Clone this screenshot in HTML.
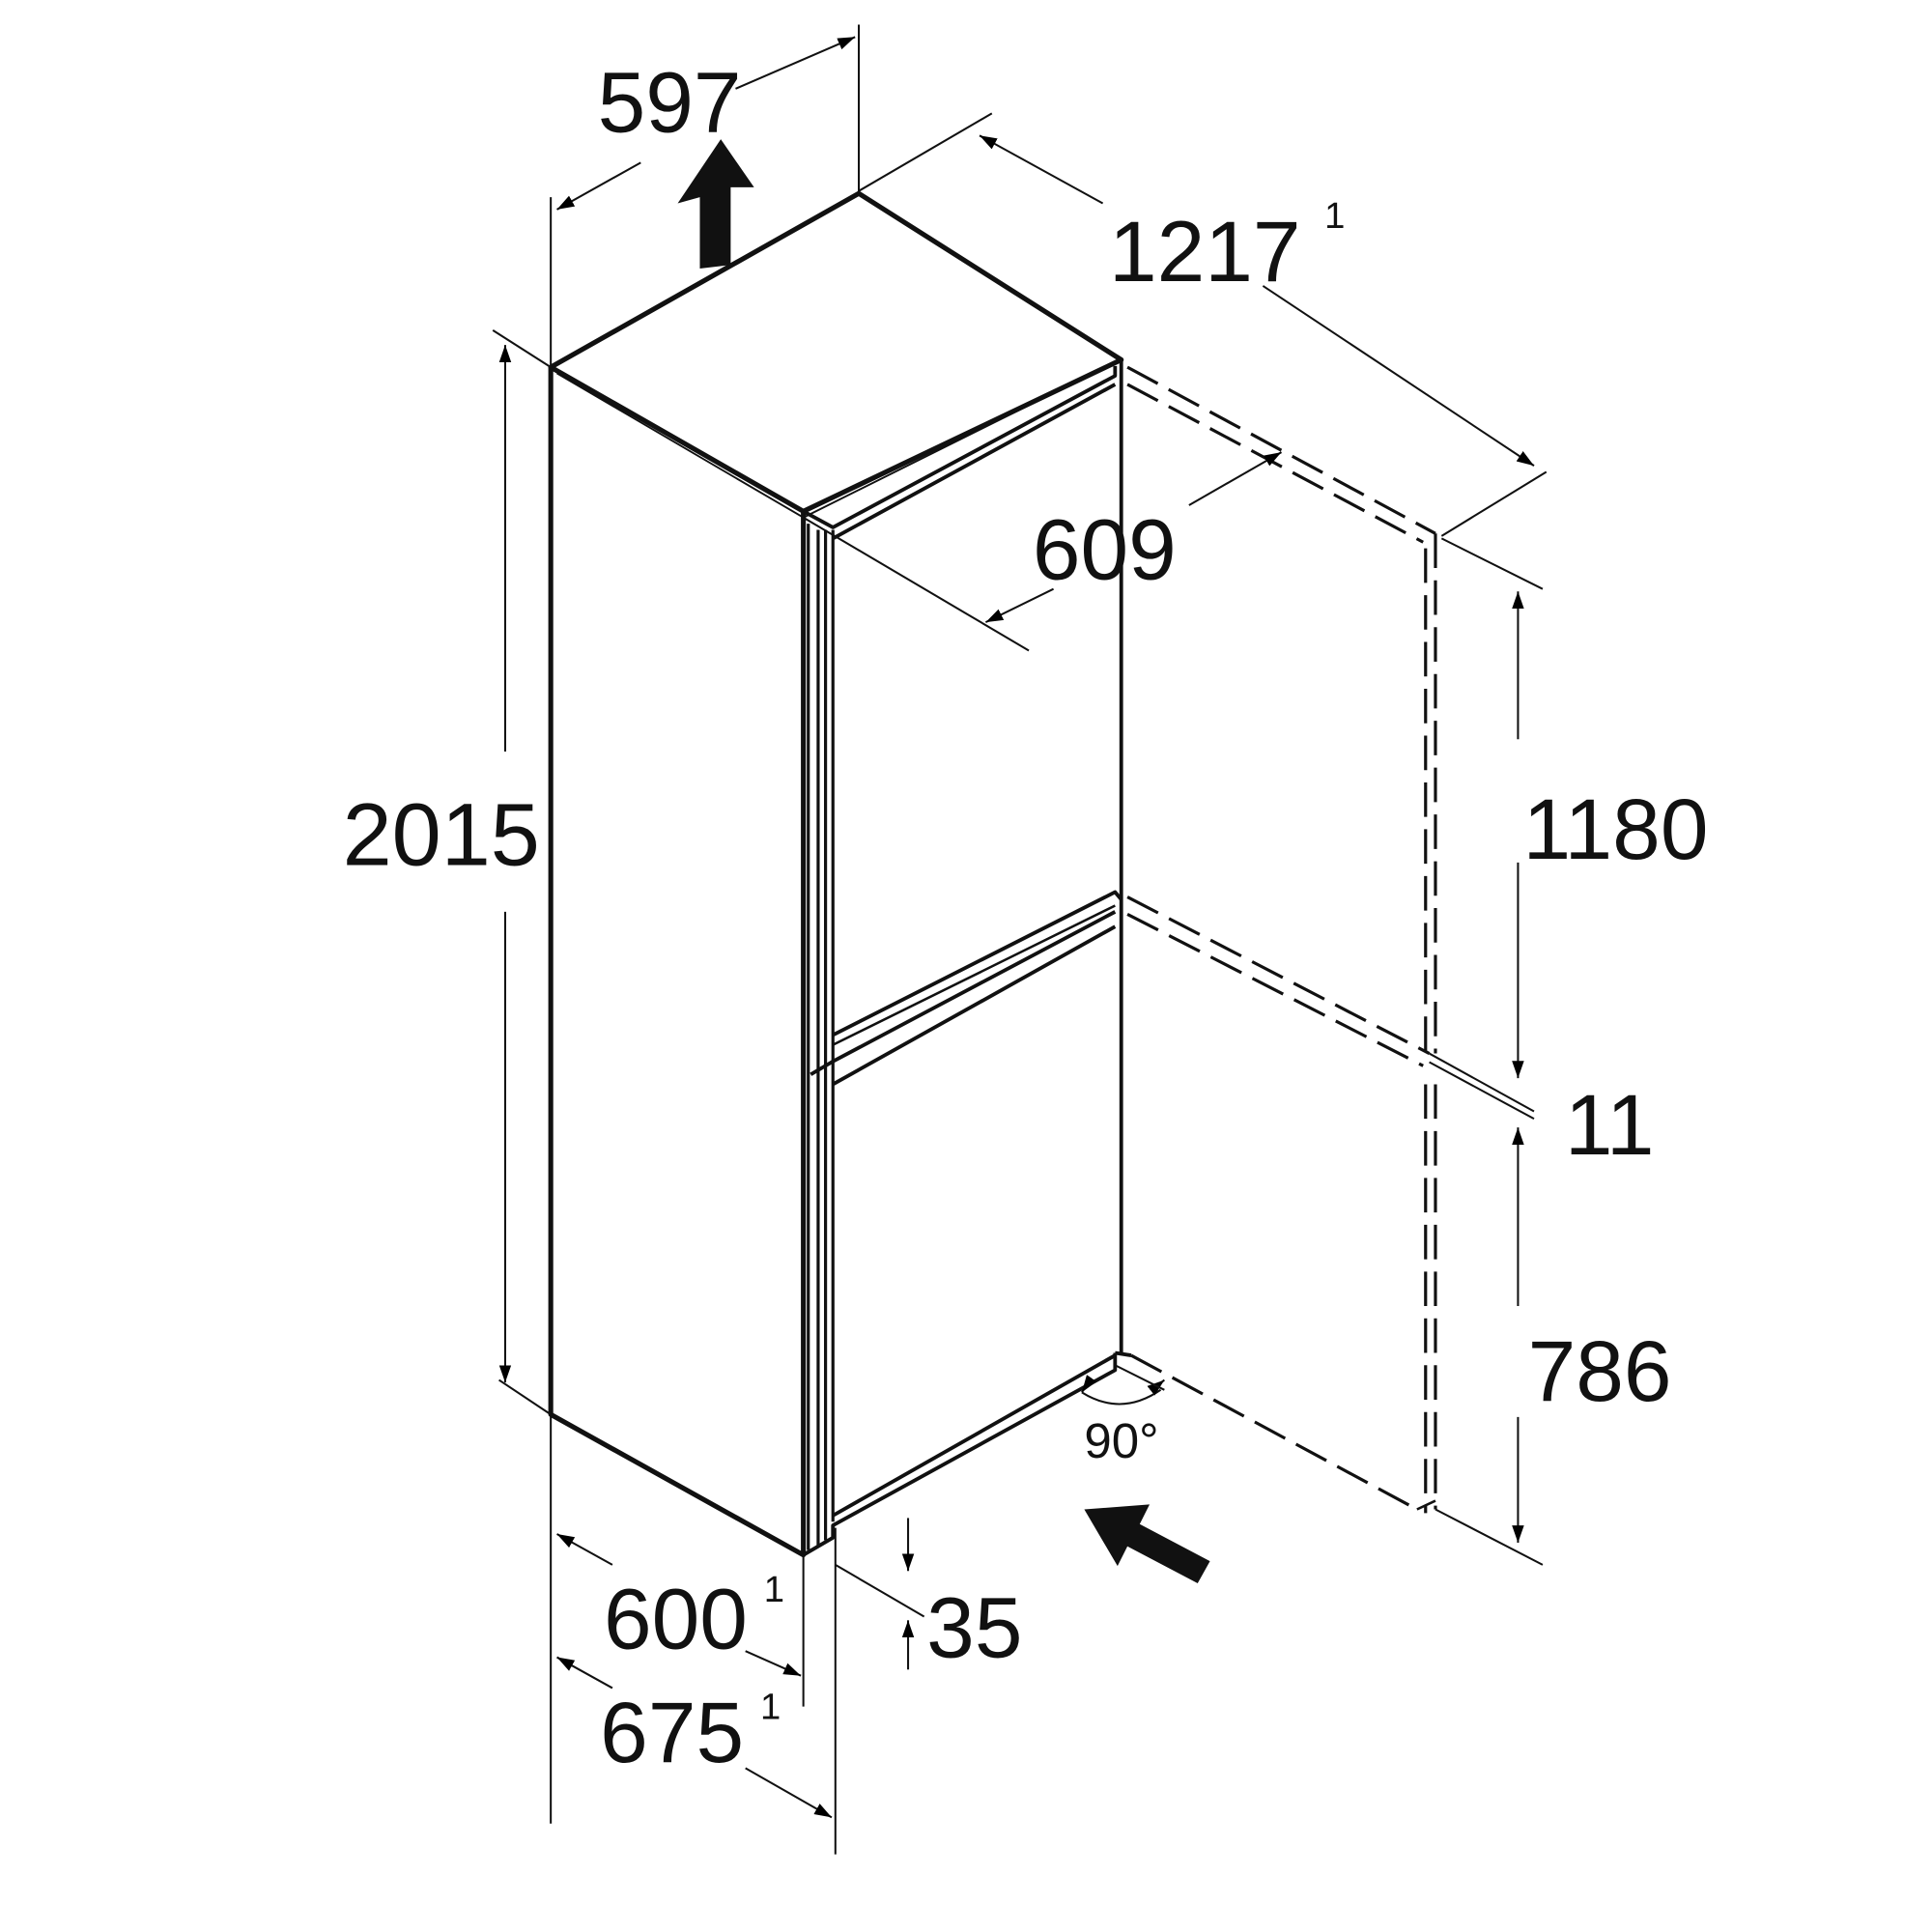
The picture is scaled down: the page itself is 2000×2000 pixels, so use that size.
<!DOCTYPE html>
<html><head><style>html,body{margin:0;padding:0;background:#fff}svg{display:block}</style></head>
<body>
<svg width="2000" height="2000" viewBox="0 0 1568 1568" xmlns="http://www.w3.org/2000/svg">
<defs>
<marker id="a" viewBox="0 0 10 10" refX="10" refY="5" markerWidth="14" markerHeight="14" markerUnits="userSpaceOnUse" orient="auto-start-reverse"><path d="M0,1.5 L10,5 L0,8.5 z" fill="#000"/></marker>
</defs>
<g fill="none" stroke="#111" stroke-linejoin="round">
<path d="M447,298 L697,157 L910,292 L652,415 Z" stroke-width="4"/>
<path d="M452,303 L652,420 L897,298" stroke-width="1.5"/>
<path d="M447,298 L447,1148 L652,1262 L652,415" stroke-width="4"/>
<path d="M910,292 L910,1100" stroke-width="3"/>
<path d="M656,425 V1258 M664,430 V1255 M670,430 V1250 M676,430 V1235" stroke-width="2.5"/>
<path d="M652,415 L676,428 L905,305 L905,297" stroke-width="3"/>
<path d="M676,437 L905,312" stroke-width="3"/>
<path d="M676,840 L905,724 L910,730" stroke-width="3"/>
<path d="M676,848 L905,735" stroke-width="2"/>
<path d="M658,872 L675,862 L905,740" stroke-width="3"/>
<path d="M676,880 L905,752" stroke-width="3"/>
<path d="M676,1230 L905,1100" stroke-width="3"/>
<path d="M652,1262 L676,1248 L676,1238 L905,1112 L905,1098" stroke-width="3"/>
<path d="M905,1098 L918,1100" stroke-width="3"/>
<g stroke-dasharray="28,10" stroke-width="2.5">
<path d="M915,298 L1165,433"/><path d="M915,312 L1155,440"/>
<path d="M1165,433 V855"/><path d="M1157,445 V855"/>
<path d="M1165,880 V1225"/><path d="M1157,880 V1228"/>
<path d="M915,728 L1160,855"/><path d="M915,742 L1155,865"/>
<path d="M918,1100 L1150,1225"/>
</g>
<path d="M1150,1225 L1165,1218" stroke-width="2"/>
<g stroke-width="1.6">
<path d="M447,160 V1480"/>
<path d="M697,20 V157"/>
<path d="M597,72 L694,30" marker-end="url(#a)"/>
<path d="M520,132 L452,170" marker-end="url(#a)"/>
<path d="M697,155 L805,92"/>
<path d="M1170,435 L1255,383"/>
<path d="M795,110 L895,165" marker-start="url(#a)"/>
<path d="M1025,232 L1245,378" marker-end="url(#a)"/>
<path d="M400,268 L447,298"/>
<path d="M405,1120 L447,1148"/>
<path d="M410,610 V280" marker-end="url(#a)"/>
<path d="M410,740 V1122" marker-end="url(#a)"/>
<path d="M652,420 L835,528"/>
<path d="M965,410 L1040,367" marker-end="url(#a)"/>
<path d="M855,478 L800,505" marker-end="url(#a)"/>
<path d="M1170,437 L1252,478"/>
<path d="M1160,855 L1245,902"/>
<path d="M1160,862 L1245,908"/>
<path d="M1165,1225 L1252,1270"/>
<path d="M1232,600 V480" marker-end="url(#a)"/>
<path d="M1232,700 V875" marker-end="url(#a)"/>
<path d="M1232,1060 V915" marker-end="url(#a)"/>
<path d="M1232,1150 V1252" marker-end="url(#a)"/>
<path d="M652,1262 V1385"/>
<path d="M678,1240 V1505"/>
<path d="M678,1270 L750,1312"/>
<path d="M737,1232 V1275" marker-end="url(#a)"/>
<path d="M737,1355 V1315" marker-end="url(#a)"/>
<path d="M497,1270 L452,1245" marker-end="url(#a)"/>
<path d="M605,1340 L650,1360" marker-end="url(#a)"/>
<path d="M497,1370 L452,1345" marker-end="url(#a)"/>
<path d="M605,1435 L675,1475" marker-end="url(#a)"/>
<path d="M878,1130 Q910,1150 942,1128" />
<path d="M885,1120 L878,1130" marker-end="url(#a)"/>
<path d="M935,1128 L945,1120" marker-end="url(#a)"/>
<path d="M905,1108 L945,1128"/>
</g>
</g>
<path d="M568,218 L568,160 L550,165 L585,113 L612,152 L593,152 L593,215 Z" fill="#111"/>
<path d="M880,1225 L933,1221 L925,1237 L982,1267 L972,1285 L915,1255 L907,1271 Z" fill="#111"/>
<g font-family="Liberation Sans, sans-serif" fill="#111">
<text x="485" y="107" font-size="70">597</text>
<text x="900" y="228" font-size="70">1217</text>
<text x="1075" y="185" font-size="30">1</text>
<text x="838" y="470" font-size="70">609</text>
<text x="278" y="702" font-size="72">2015</text>
<text x="1236" y="697" font-size="70">1180</text>
<text x="1270" y="937" font-size="70">11</text>
<text x="1240" y="1137" font-size="70">786</text>
<text x="880" y="1183" font-size="40">90°</text>
<text x="490" y="1338" font-size="70">600</text>
<text x="620" y="1300" font-size="30">1</text>
<text x="752" y="1345" font-size="70">35</text>
<text x="487" y="1430" font-size="70">675</text>
<text x="617" y="1395" font-size="30">1</text>
</g>
</svg>
</body></html>
